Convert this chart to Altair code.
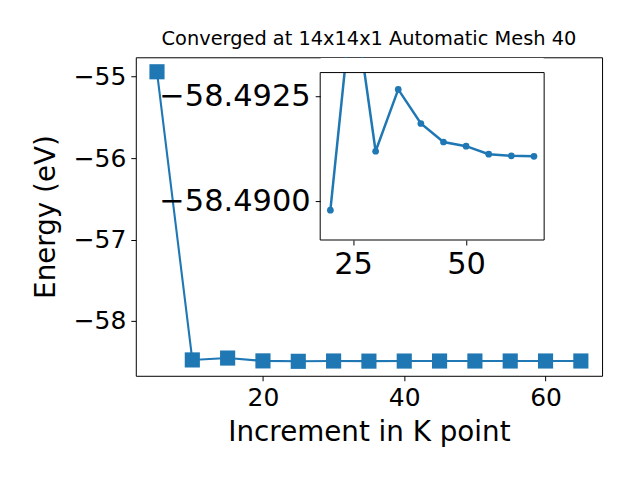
import altair as alt
import pandas as pd

# ---- data ----
k_points = [5, 10, 15, 20, 25, 30, 35, 40, 45, 50, 55, 60, 65]
energies = [-54.94, -58.478, -58.455, -58.48979, -58.4950, -58.49119,
            -58.49266, -58.49185, -58.49141, -58.49131, -58.49112,
            -58.49108, -58.49107]
inset_start = 20

main_x_ticks = [20, 40, 60]
main_y_ticks = [-58, -57, -56, -55]
inset_x_ticks = [25, 50]
inset_y_ticks = [-58.4925, -58.4900]

title_text = "Converged at 14x14x1 Automatic Mesh 40"
x_title = "Increment in K point"
y_title = "Energy (eV)"

# ---- layout ----
W, H = 467, 319
IX0, IX1 = 184.7, 409.0      # inset box (plot coords)
IY0, IY1 = 15.3, 183.0
BLUE = "#1f77b4"
FONT = "DejaVu Sans"

main_df = pd.DataFrame({"k": k_points, "E": energies})
inset_df = main_df[main_df["k"] >= inset_start].reset_index(drop=True)

x_main = alt.X("k:Q",
               scale=alt.Scale(domain=[2, 68], nice=False, zero=False),
               axis=alt.Axis(values=main_x_ticks, title=x_title, grid=False,
                             labelFontSize=25, tickSize=5, labelPadding=5,
                             titleFontSize=27.8, titleX=W / 2, titleY=65,
                             titleBaseline="alphabetic", domain=False))
y_main = alt.Y("E:Q",
               scale=alt.Scale(domain=[-58.67275, -54.76225], nice=False, zero=False),
               axis=alt.Axis(values=main_y_ticks, format="d", title=y_title, grid=False,
                             labelFontSize=25, tickSize=5, labelPadding=5,
                             titleFontSize=27.8, titleX=-81, titleY=H / 2,
                             titleAngle=-90, titleBaseline="alphabetic", domain=False))

main_line = alt.Chart(main_df).mark_line(color=BLUE, strokeWidth=2.1).encode(x=x_main, y=y_main)
main_pts = alt.Chart(main_df).mark_point(shape="square", filled=True, size=230,
                                         color=BLUE, opacity=1).encode(x=x_main, y=y_main)
main = alt.layer(main_line, main_pts)

x_in = alt.X("k:Q",
             scale=alt.Scale(domain=[17.75, 67.25], range=[IX0, IX1], nice=False, zero=False),
             axis=alt.Axis(orient="bottom", offset=-(H - IY1), values=inset_x_ticks, title=None,
                           labelFontSize=30.5, tickSize=5, labelPadding=5, grid=False,
                           domain=False, zindex=1))
y_in = alt.Y("E:Q",
             scale=alt.Scale(domain=[-58.49306, -58.48908], range=[IY0, IY1], nice=False, zero=False),
             axis=alt.Axis(orient="left", offset=-IX0, values=inset_y_ticks, format=".4f",
                           title=None, labelFontSize=30.5, tickSize=5, labelPadding=5,
                           grid=False, domain=False, zindex=1))

one = pd.DataFrame({"a": [0]})
inset_bg = alt.Chart(one).mark_rect(fill="white").encode(
    x=alt.value(IX0), x2=alt.value(IX1), y=alt.value(IY0), y2=alt.value(IY1))

inset_line = alt.Chart(inset_df).mark_line(color=BLUE, strokeWidth=2.5, clip=True).encode(x=x_in, y=y_in)
inset_pts = alt.Chart(inset_df).mark_circle(size=45, color=BLUE, opacity=1, clip=True).encode(x=x_in, y=y_in)
inset = alt.layer(inset_line, inset_pts)

strip = alt.Chart(one).mark_rect(fill="white").encode(
    x=alt.value(IX0 + 0.5), x2=alt.value(IX1 - 0.5), y=alt.value(0.6), y2=alt.value(IY0 - 0.6))
frame = alt.Chart(one).mark_rect(fillOpacity=0, stroke="black", strokeWidth=1).encode(
    x=alt.value(IX0), x2=alt.value(IX1), y=alt.value(IY0), y2=alt.value(IY1))

chart = alt.layer(main, inset_bg, inset, strip, frame).resolve_scale(
    x="independent", y="independent"
).properties(
    width=W, height=H,
    autosize="none",
    padding={"left": 128, "top": 49, "right": 30, "bottom": 100},
    title=alt.Title(title_text, fontSize=19.4, font=FONT, fontWeight="normal",
                    offset=8, anchor="middle", color="black"),
).configure_view(
    stroke="black", strokeWidth=1
).configure_axis(
    labelFont=FONT, titleFont=FONT, labelColor="black", titleColor="black",
    tickColor="black", titleFontWeight="normal"
)

chart.save("out.html", embed_options={"renderer": "svg", "actions": False})
